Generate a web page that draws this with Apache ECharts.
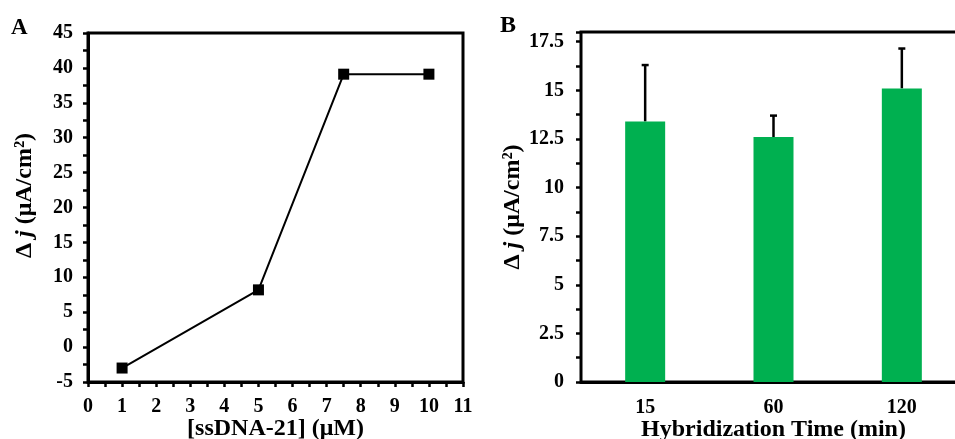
<!DOCTYPE html>
<html>
<head>
<meta charset="utf-8">
<script src="https://cdn.jsdelivr.net/npm/echarts@6/dist/echarts.min.js"></script>
<style>
  html, body { margin: 0; padding: 0; background: #fff; }
  #chart { width: 955px; height: 439px; }
</style>
</head>
<body>
<div id="chart"></div>
<script>
// panel A: response vs. ssDNA-21 concentration
var concUM = [1, 5, 7.5, 10];
var deltaJ = [-3.0, 8.2, 39.1, 39.1];

// panel B: response vs. hybridization time
var hybTimes = ['15', '60', '120'];
var hybMean = [13.4, 12.6, 15.1];
var hybErrTop = [16.3, 13.7, 17.15];

var serif = '"Liberation Serif", "DejaVu Serif", serif';
var black = '#000';
var green = '#00B050';

var tickLabel = { color: black, fontFamily: serif, fontWeight: 'bold', fontSize: 20 };
var axisTitle = { color: black, fontFamily: serif, fontWeight: 'bold', fontSize: 24 };
var yTitleRich = {
  a: { color: black, fontFamily: serif, fontWeight: 'bold', fontSize: 24 },
  b: { color: black, fontFamily: serif, fontWeight: 'bold', fontStyle: 'italic', fontSize: 24 }
};

var errData = hybErrTop.map(function (v, i) { return [i, hybMean[i], v]; });

var chart = echarts.init(document.getElementById('chart'));
chart.setOption({
  animation: false,
  backgroundColor: '#fff',
  graphic: [
    { type: 'text', left: 11, top: 17, style: { text: 'A', font: 'bold 23px ' + serif, fill: black } },
    { type: 'text', left: 500, top: 14, style: { text: 'B', font: 'bold 24px ' + serif, fill: black } }
  ],
  grid: [
    { left: 88, top: 33, width: 375, height: 349, outerBoundsMode: 'none', show: true, borderColor: black, borderWidth: 3, backgroundColor: 'transparent' },
    { left: 581, top: 32, width: 385, height: 350, outerBoundsMode: 'none', show: true, borderColor: black, borderWidth: 3, backgroundColor: 'transparent' }
  ],
  xAxis: [
    {
      gridIndex: 0, type: 'value', min: 0, max: 11, interval: 1,
      name: '[ssDNA-21] (μM)', nameLocation: 'middle', nameGap: 35, nameMoveOverlap: false,
      nameTextStyle: axisTitle,
      axisLine: { onZero: false, lineStyle: { color: black, width: 3 } },
      axisTick: { show: true, length: 5, lineStyle: { color: black, width: 2.5 } },
      minorTick: { show: true, splitNumber: 2, length: 5, lineStyle: { color: black, width: 2.5 } },
      axisLabel: Object.assign({ margin: 15 }, tickLabel),
      splitLine: { show: false }
    },
    {
      gridIndex: 1, type: 'category', data: hybTimes,
      name: 'Hybridization Time (min)', nameLocation: 'middle', nameGap: 36, nameMoveOverlap: false,
      nameTextStyle: axisTitle,
      axisLine: { onZero: false, lineStyle: { color: black, width: 3 } },
      axisTick: { show: false },
      axisLabel: Object.assign({ margin: 16 }, tickLabel)
    }
  ],
  yAxis: [
    {
      gridIndex: 0, type: 'value', min: -5, max: 45, interval: 5,
      name: '{a|Δ }{b|j}{a| (μA/cm²)}', nameLocation: 'middle', nameGap: 51,
      nameTextStyle: { rich: yTitleRich, padding: [0, 0, 0, 24] },
      axisLine: { lineStyle: { color: black, width: 3 } },
      axisTick: { show: true, length: 5, lineStyle: { color: black, width: 2.5 } },
      minorTick: { show: true, splitNumber: 2, length: 5, lineStyle: { color: black, width: 2.5 } },
      axisLabel: Object.assign({ margin: 15 }, tickLabel),
      splitLine: { show: false }
    },
    {
      gridIndex: 1, type: 'value', min: 0, max: 18, interval: 2.5,
      name: '{a|Δ }{b|j}{a| (μA/cm²)}', nameLocation: 'middle', nameGap: 53,
      nameTextStyle: { rich: yTitleRich },
      axisLine: { lineStyle: { color: black, width: 3 } },
      axisTick: { show: true, length: 5, lineStyle: { color: black, width: 2.5 } },
      minorTick: { show: true, splitNumber: 2, length: 5, lineStyle: { color: black, width: 2.5 } },
      axisLabel: Object.assign({
        margin: 17,
        formatter: function (v) { return v > 17.5 ? '' : String(v); }
      }, tickLabel),
      splitLine: { show: false }
    }
  ],
  series: [
    {
      type: 'line', xAxisIndex: 0, yAxisIndex: 0,
      data: concUM.map(function (x, i) { return [x, deltaJ[i]]; }),
      symbol: 'rect', symbolSize: 11,
      lineStyle: { color: black, width: 2 },
      itemStyle: { color: black }
    },
    {
      type: 'bar', xAxisIndex: 1, yAxisIndex: 1,
      data: hybMean, barWidth: 40,
      itemStyle: { color: green }
    },
    {
      type: 'custom', xAxisIndex: 1, yAxisIndex: 1, z: 1,
      data: errData,
      renderItem: function (params, api) {
        var lo = api.coord([api.value(0), api.value(1)]);
        var hi = api.coord([api.value(0), api.value(2)]);
        var style = { stroke: black, lineWidth: 2.5 };
        return {
          type: 'group',
          children: [
            { type: 'line', shape: { x1: lo[0], y1: lo[1], x2: hi[0], y2: hi[1] }, style: style },
            { type: 'line', shape: { x1: hi[0] - 3.5, y1: hi[1], x2: hi[0] + 3.5, y2: hi[1] }, style: style }
          ]
        };
      }
    }
  ]
});
</script>
</body>
</html>
